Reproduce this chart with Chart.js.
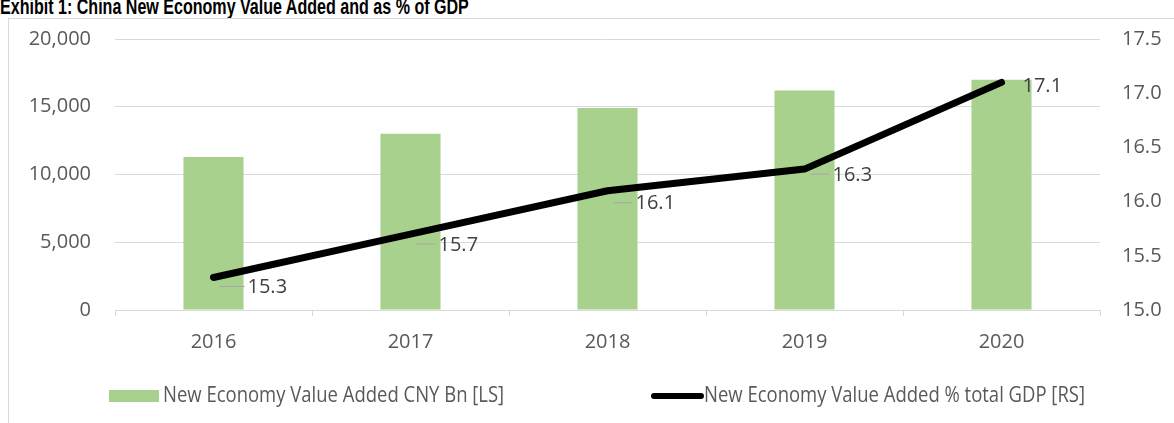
<!DOCTYPE html>
<html>
<head>
<meta charset="utf-8">
<script src="https://cdn.jsdelivr.net/npm/chart.js@4"></script>
<style>
    body { margin: 0; width: 1174px; height: 423px; overflow: hidden; background: #fff; position: relative; }
    #title { position: absolute; left: 0; top: -4px; font: bold 22px/22px "Liberation Sans", Arial, sans-serif; color: #000; white-space: nowrap; transform: scaleX(0.73); transform-origin: 0 0; }
    #frame { position: absolute; left: 8px; top: 18px; width: 1180px; height: 430px; border: 1px solid #d9d9d9; }
    #chart { position: absolute; left: 0; top: 0; }
</style>
</head>
<body>
<div id="title">Exhibit 1: China New Economy Value Added and as % of GDP</div>
<div id="frame"></div>
<canvas id="chart" width="1174" height="423"></canvas>
<script>
// data
const years = ['2016', '2017', '2018', '2019', '2020'];
const valueAdded = [11300, 13000, 14900, 16200, 17000];   // CNY Bn, sumbu kiri
const shareOfGdp = [15.3, 15.7, 16.1, 16.3, 17.1];        // % GDP, sumbu kanan
const barLabel = 'New Economy Value Added CNY Bn [LS]';
const lineLabel = 'New Economy Value Added % total GDP [RS]';

const TICK_FONT = { family: '"Open Sans", sans-serif', size: 20 };
const TICK_COLOR = '#595959';
const GRID_COLOR = '#d9d9d9';

// label angka di samping titik garis, dengan garis penunjuk kecil
const pointLabels = {
    id: 'pointLabels',
    afterDatasetsDraw(chart, args, opts) {
        const ctx = chart.ctx;
        const meta = chart.getDatasetMeta(1);
        ctx.save();
        ctx.font = '20px "Open Sans", sans-serif';
        ctx.textBaseline = 'middle';
        meta.data.forEach((pt, i) => {
            const [dx, dy] = opts.offsets[i];
            if (opts.leader[i]) {
                ctx.strokeStyle = '#a6a6a6';
                ctx.lineWidth = 1;
                ctx.beginPath();
                ctx.moveTo(pt.x + 6, pt.y + dy - 1);
                ctx.lineTo(pt.x + dx - 3, pt.y + dy - 1);
                ctx.stroke();
            }
            ctx.fillStyle = '#404040';
            ctx.fillText(shareOfGdp[i].toFixed(1), pt.x + dx, pt.y + dy);
        });
        ctx.restore();
    },
};

// teks legenda agak dipadatkan supaya mirip Calibri
function narrowText(ctx, text, x, y, sx) {
    ctx.save();
    ctx.translate(x, y);
    ctx.scale(sx, 1);
    ctx.fillText(text, 0, 0);
    ctx.restore();
}

// legenda manual ala Excel; item kedua dirapatkan ke kanan
const legendRow = {
    id: 'legendRow',
    afterDraw(chart, args, opts) {
        const ctx = chart.ctx;
        const [bar, line] = chart.data.datasets;
        const y = opts.y;
        ctx.save();
        ctx.font = opts.font;
        ctx.textBaseline = 'middle';
        ctx.fillStyle = bar.backgroundColor;
        ctx.fillRect(opts.x1, y - 6, 50, 12);
        ctx.fillStyle = TICK_COLOR;
        narrowText(ctx, bar.label, opts.x1 + 54, y, opts.squeeze);

        const w2 = ctx.measureText(line.label).width * opts.squeeze;
        const x2 = opts.right - w2 - 53;
        ctx.strokeStyle = line.borderColor;
        ctx.lineWidth = 6;
        ctx.lineCap = 'round';
        ctx.beginPath();
        ctx.moveTo(x2 + 3, y);
        ctx.lineTo(x2 + 50, y);
        ctx.stroke();
        narrowText(ctx, line.label, x2 + 53, y, opts.squeeze);
        ctx.restore();
    },
};

new Chart(document.getElementById('chart'), {
    type: 'bar',
    data: {
        labels: years,
        datasets: [
            {
                type: 'bar',
                label: barLabel,
                data: valueAdded,
                backgroundColor: '#a9d18e',
                yAxisID: 'y',
                order: 2,
                categoryPercentage: 1,
                barPercentage: 0.305,
            },
            {
                type: 'line',
                label: lineLabel,
                data: shareOfGdp,
                borderColor: '#000000',
                borderWidth: 7,
                borderCapStyle: 'round',
                borderJoinStyle: 'round',
                pointRadius: 0,
                tension: 0,
                yAxisID: 'y1',
                order: 1,
            },
        ],
    },
    options: {
        responsive: false,
        animation: false,
        layout: { padding: { top: 39, bottom: 53, left: 0, right: 0 } },
        plugins: {
            legend: { display: false },
            tooltip: { enabled: false },
            pointLabels: {
                offsets: [[34, 10], [28, 11], [28, 13], [28, 6], [21, 4]],
                leader: [true, true, true, true, false],
            },
            legendRow: { x1: 109, right: 1085, y: 396, squeeze: 0.88, font: '21px "Open Sans", sans-serif' },
        },
        scales: {
            x: {
                offset: true,
                grid: { offset: true, drawOnChartArea: false, drawTicks: true, tickLength: 6, color: GRID_COLOR },
                border: { color: GRID_COLOR },
                ticks: { color: TICK_COLOR, font: TICK_FONT, padding: 14 },
                afterFit: (s) => { s.height = 60; },
            },
            y: {
                position: 'left',
                min: 0,
                max: 20000,
                ticks: {
                    stepSize: 5000,
                    color: TICK_COLOR,
                    font: TICK_FONT,
                    padding: 24,
                    callback: (v) => v.toLocaleString('en-US'),
                },
                grid: { color: GRID_COLOR, drawTicks: false },
                border: { display: false },
                afterFit: (s) => { s.width = 115; },
            },
            y1: {
                position: 'right',
                min: 15,
                max: 17.5,
                ticks: {
                    stepSize: 0.5,
                    color: TICK_COLOR,
                    font: TICK_FONT,
                    padding: 22,
                    callback: (v) => v.toFixed(1),
                },
                grid: { display: false, drawTicks: false },
                border: { display: false },
                afterFit: (s) => { s.width = 74; },
            },
        },
    },
    plugins: [pointLabels, legendRow],
});
</script>
</body>
</html>
